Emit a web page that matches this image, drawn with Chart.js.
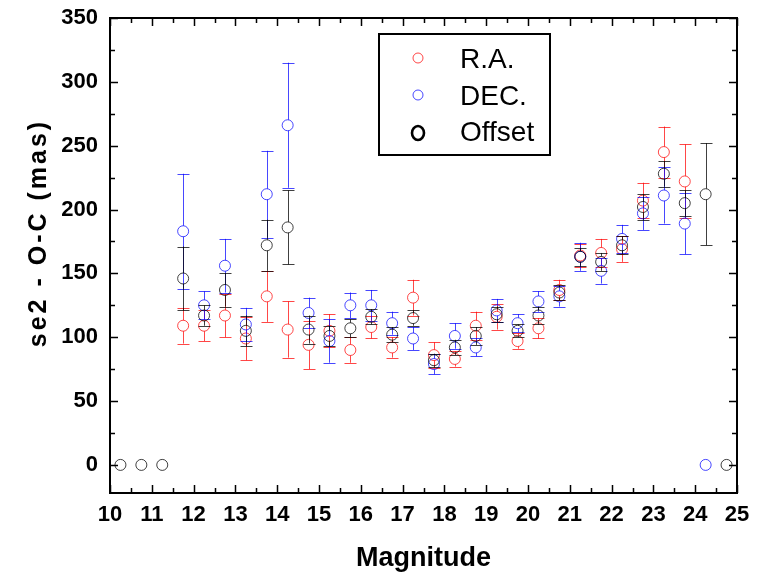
<!DOCTYPE html>
<html>
<head>
<meta charset="utf-8">
<script src="https://cdn.jsdelivr.net/npm/chart.js@4.4.1/dist/chart.umd.min.js"></script>
<style>
  html, body { margin: 0; padding: 0; background: #fff; }
  .chart-box { width: 758px; height: 577px; position: relative; }
</style>
</head>
<body>
<div class="chart-box"><canvas id="magChart"></canvas></div>
<script>
// Magnitude bins (x)
var magnitudes = [10.25, 10.75, 11.25, 11.75, 12.25, 12.75, 13.25, 13.75, 14.25, 14.75,
  15.25, 15.75, 16.25, 16.75, 17.25, 17.75, 18.25, 18.75, 19.25, 19.75,
  20.25, 20.75, 21.25, 21.75, 22.25, 22.75, 23.25, 23.75, 24.25, 24.75];

// R.A.
var raValues = [null, null, null, 109, 109, 117, 99, 132, 106, 94,
  105, 90, 108, 92, 131, 86, 83, 109, 116, 97,
  107, 137, 164, 166, 169, 207, 245, 222, null, null];
var raErrors = [0, 0, 0, 14, 12, 17, 17, 20, 22, 19,
  13, 10, 9, 8, 14, 10, 6, 11, 10, 6,
  8, 8, 9, 11, 10, 14, 20, 29, 0, 0];

// DEC.
var decValues = [null, null, null, 183, 125, 156, 110, 212, 266, 119,
  97, 125, 125, 111, 99, 79, 101, 92, 121, 111,
  128, 132, 163, 152, 177, 197, 211, 189, 0, null];
var decErrors = [0, 0, 0, 45, 11, 21, 13, 34, 49, 12,
  17, 10, 12, 9, 9, 8, 10, 7, 9, 7,
  8, 8, 11, 10, 11, 13, 22, 24, 0, 0];

// Offset
var offValues = [0, 0, 0, 146, 117, 137, 105, 172, 186, 106,
  101, 107, 116, 102, 115, 82, 92, 101, 118, 105,
  117, 135, 163, 159, 172, 202, 228, 205, 212, 0];
var offErrors = [0, 0, 0, 25, 8, 13, 12, 20, 29, 11,
  8, 7, 6, 6, 6, 5, 6, 7, 6, 5,
  7, 6, 7, 7, 7, 10, 10, 10, 40, 0];

var xTicks = [10, 11, 12, 13, 14, 15, 16, 17, 18, 19, 20, 21, 22, 23, 24, 25];
var yTicks = [0, 50, 100, 150, 200, 250, 300, 350];
var yTitle = "se2 - O-C (mas)";

var FONT = "'Liberation Sans', Arial, sans-serif";

function toPoints(values, errors) {
  var pts = [];
  for (var i = 0; i < magnitudes.length; i++) {
    if (values[i] === null) continue;
    pts.push({ x: magnitudes[i], y: values[i], err: errors[i] });
  }
  return pts;
}

// error bars, drawn under each dataset's circles
var errorBars = {
  id: "errorBars",
  beforeDatasetDraw: function (chart, args) {
    var ds = chart.data.datasets[args.index];
    var ctx = chart.ctx;
    var xs = chart.scales.x, ys = chart.scales.y;
    var r = ds.pointRadius;
    ctx.save();
    ctx.strokeStyle = ds.borderColor;
    ctx.lineWidth = 1;
    ds.data.forEach(function (p) {
      if (!p.err) return;
      var px = Math.round(xs.getPixelForValue(p.x)) + 0.5;
      var cy = ys.getPixelForValue(p.y);
      var top = ys.getPixelForValue(p.y + p.err);
      var bot = ys.getPixelForValue(p.y - p.err);
      ctx.beginPath();
      if (cy - r > top) { ctx.moveTo(px, top); ctx.lineTo(px, cy - r); }
      if (cy + r < bot) { ctx.moveTo(px, cy + r); ctx.lineTo(px, bot); }
      ctx.moveTo(px - 6, Math.round(top) + 0.5); ctx.lineTo(px + 6, Math.round(top) + 0.5);
      ctx.moveTo(px - 6, Math.round(bot) + 0.5); ctx.lineTo(px + 6, Math.round(bot) + 0.5);
      ctx.stroke();
    });
    ctx.restore();
  }
};

// frame with inward ticks on all four sides
var frameTicks = {
  id: "frameTicks",
  afterDatasetsDraw: function (chart) {
    var ctx = chart.ctx, a = chart.chartArea;
    var xs = chart.scales.x, ys = chart.scales.y;
    ctx.save();
    ctx.strokeStyle = "#000";
    ctx.lineWidth = 1.5;
    var v, p, len;
    ctx.beginPath();
    for (v = 10; v <= 25; v += 0.5) {
      p = Math.round(xs.getPixelForValue(v)) + 0.5;
      len = (v % 1 === 0) ? 8 : 5;
      ctx.moveTo(p, a.bottom); ctx.lineTo(p, a.bottom - len);
      ctx.moveTo(p, a.top); ctx.lineTo(p, a.top + len);
    }
    for (v = 0; v <= 350; v += 25) {
      p = Math.round(ys.getPixelForValue(v)) + 0.5;
      len = (v % 50 === 0) ? 8 : 5;
      ctx.moveTo(a.left, p); ctx.lineTo(a.left + len, p);
      ctx.moveTo(a.right, p); ctx.lineTo(a.right - len, p);
    }
    ctx.stroke();
    ctx.lineWidth = 2;
    ctx.strokeRect(a.left, a.top, a.right - a.left, a.bottom - a.top);
    ctx.restore();
  }
};

// rotated y title, a bit spaced out like the original
var yAxisTitle = {
  id: "yAxisTitle",
  afterDraw: function (chart) {
    var ctx = chart.ctx, a = chart.chartArea;
    ctx.save();
    ctx.translate(39, a.top + 215);
    ctx.rotate(-Math.PI / 2);
    ctx.font = "bold 25px " + FONT;
    if ("letterSpacing" in ctx) ctx.letterSpacing = "3px";
    ctx.fillStyle = "#000";
    ctx.textAlign = "center";
    ctx.textBaseline = "middle";
    ctx.fillText(yTitle, 0, 0);
    ctx.restore();
  }
};

// legend box in the upper middle of the plot
var boxLegend = {
  id: "boxLegend",
  afterDraw: function (chart) {
    var ctx = chart.ctx, a = chart.chartArea;
    var bx = a.left + 269, by = a.top + 16;
    ctx.save();
    ctx.lineWidth = 2;
    ctx.strokeStyle = "#000";
    ctx.strokeRect(bx, by, 171, 121);
    var rows = [24, 61, 97];
    chart.data.datasets.forEach(function (ds, i) {
      var cy = by + rows[i];
      ctx.beginPath();
      if (i === 2) {
        ctx.lineWidth = 2.6;
        ctx.strokeStyle = "#000";
        ctx.ellipse(bx + 39, cy + 2, 6, 7, 0, 0, Math.PI * 2);
      } else {
        ctx.lineWidth = 1;
        ctx.strokeStyle = ds.borderColor;
        ctx.arc(bx + 39, cy, 5, 0, Math.PI * 2);
      }
      ctx.stroke();
      ctx.fillStyle = "#000";
      ctx.font = "28px " + FONT;
      ctx.textBaseline = "alphabetic";
      ctx.fillText(ds.label, bx + 81, cy + 10);
    });
    ctx.restore();
  }
};

var ctx = document.getElementById("magChart").getContext("2d");
var magChart = new Chart(ctx, {
  type: "scatter",
  data: {
    datasets: [
      {
        label: "R.A.",
        data: toPoints(raValues, raErrors),
        borderColor: "rgba(255, 0, 0, 0.72)",
        backgroundColor: "rgba(0, 0, 0, 0)",
        pointRadius: 5.5,
        borderWidth: 1,
        order: 2,
      },
      {
        label: "DEC.",
        data: toPoints(decValues, decErrors),
        borderColor: "rgba(0, 0, 255, 0.72)",
        backgroundColor: "rgba(0, 0, 0, 0)",
        pointRadius: 5.5,
        borderWidth: 1,
        order: 1,
      },
      {
        label: "Offset",
        data: toPoints(offValues, offErrors),
        borderColor: "rgba(0, 0, 0, 0.75)",
        backgroundColor: "rgba(0, 0, 0, 0)",
        pointRadius: 5.5,
        borderWidth: 1,
        order: 0,
      },
    ],
  },
  options: {
    responsive: true,
    maintainAspectRatio: false,
    animation: false,
    layout: { padding: { top: 18, right: 21, left: 0, bottom: 0 } },
    plugins: {
      legend: { display: false },
      tooltip: { enabled: false },
    },
    scales: {
      x: {
        type: "linear",
        min: 10,
        max: 25,
        afterBuildTicks: function (scale) {
          scale.ticks = xTicks.map(function (v) { return { value: v }; });
        },
        afterFit: function (scale) {
          scale.height = 84;
          scale.paddingLeft = 0;
          scale.paddingRight = 0;
        },
        grid: { display: false, drawTicks: false },
        border: { display: false },
        ticks: {
          autoSkip: false,
          maxRotation: 0,
          padding: 9,
          color: "#000",
          font: { family: FONT, size: 22, weight: "bold" },
        },
        title: {
          display: true,
          text: "Magnitude",
          color: "#000",
          font: { family: FONT, size: 27, weight: "bold" },
          padding: { top: 0, bottom: 2 },
        },
      },
      y: {
        min: -22,
        max: 350,
        afterBuildTicks: function (scale) {
          scale.ticks = yTicks.map(function (v) { return { value: v }; });
        },
        afterFit: function (scale) {
          scale.width = 110;
          scale.paddingTop = 0;
          scale.paddingBottom = 0;
        },
        grid: { display: false, drawTicks: false },
        border: { display: false },
        ticks: {
          padding: 12,
          color: "#000",
          font: { family: FONT, size: 22, weight: "bold" },
        },
      },
    },
  },
  plugins: [errorBars, frameTicks, yAxisTitle, boxLegend],
});
</script>
</body>
</html>
